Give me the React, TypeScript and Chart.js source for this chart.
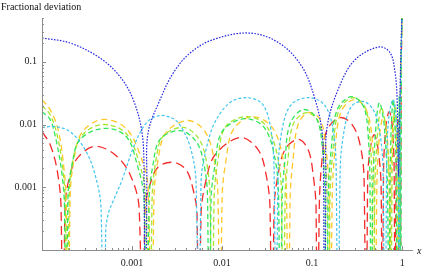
import React, { useEffect, useRef } from 'react';
import { Chart, registerables } from 'chart.js';

Chart.register(...registerables);

type Pt = [number, number];

// Values (x, |fractional deviation|); 1e-8 marks a zero crossing.
const blueCurve: Pt[] = [
  [1e-4, 0.24], [2.05e-4, 0.2], [4.41e-4, 0.115], [7.36e-4, 0.058], [1.03e-3, 0.025],
  [1.29e-3, 0.0075], [1.36e-3, 0.0015], [1.41e-3, 1e-8], [1.46e-3, 0.0015], [1.51e-3, 0.0075],
  [2.05e-3, 0.025], [2.86e-3, 0.066], [4.41e-3, 0.138], [7.74e-3, 0.223], [0.02, 0.288],
  [0.043, 0.2], [0.0774, 0.0834], [0.108, 0.025], [0.129, 0.0075], [0.134, 0.0015],
  [0.138, 1e-8], [0.142, 0.0015], [0.147, 0.0093], [0.2, 0.04], [0.3, 0.108], [0.555, 0.173],
  [0.736, 0.139], [0.836, 0.0668], [0.88, 0.025], [0.9, 0.004], [0.912, 0.0015], [0.925, 0.004],
  [0.95, 0.04], [0.975, 0.2], [1.0, 0.7],
];

const cyanCurve: Pt[] = [
  [1e-4, 0.009], [1.39e-4, 0.0093], [2.05e-4, 0.0077], [3.0e-4, 0.004], [3.88e-4, 0.0016],
  [4.53e-4, 0.00045], [4.89e-4, 1e-8], [5.1e-4, 0.0002], [5.5e-4, 0.0004], [6.0e-4, 0.00055],
  [7.74e-4, 0.0013], [1.08e-3, 0.005], [1.47e-3, 0.011], [2.05e-3, 0.0139], [2.86e-3, 0.0125],
  [3.41e-3, 0.0098], [4.41e-3, 0.0045], [5.14e-3, 0.0012],
  [5.55e-3, 1e-8], [5.84e-3, 0.0012], [6.64e-3, 0.004], [8.36e-3, 0.011], [0.0123, 0.0225],
  [0.019, 0.0268], [0.0278, 0.0215], [0.0341, 0.01], [0.0378, 0.0019], [0.04, 1e-8],
  [0.0419, 0.0019], [0.0476, 0.01], [0.06, 0.0215], [0.095, 0.0268], [0.139, 0.02],
  [0.171, 0.0083], [0.185, 0.0019], [0.194, 1e-8], [0.205, 0.0019], [0.233, 0.01],
  [0.278, 0.02], [0.378, 0.0232], [0.489, 0.0161], [0.57, 0.0069], [0.615, 0.0016],
  [0.647, 1e-8], [0.673, 0.0028], [0.718, 0.0145], [0.794, 0.025], [0.857, 0.012],
  [0.903, 0.0019], [0.926, 1e-8], [0.95, 0.012], [0.975, 0.108], [1.0, 0.7],
];

const redCurve: Pt[] = [
  [1e-4, 0.0077], [1.23e-4, 0.0048], [1.47e-4, 0.0019], [1.63e-4, 0.00045], [1.71e-4, 1e-8],
  [1.8e-4, 0.00045], [2.05e-4, 0.0016], [2.51e-4, 0.003], [3.88e-4, 0.0045], [6.47e-4, 0.0033],
  [9.5e-4, 0.0016], [1.2e-3, 0.00045], [1.33e-3, 1e-8], [1.39e-3, 0.00045], [1.58e-3, 0.0011],
  [1.95e-3, 0.0021], [2.86e-3, 0.0025], [3.98e-3, 0.0019], [4.76e-3, 0.00093], [5.27e-3, 0.00037],
  [5.55e-3, 1e-8], [5.84e-3, 0.00037], [6.64e-3, 0.0013], [8.36e-3, 0.0033], [0.0158, 0.0062],
  [0.0251, 0.004], [0.0308, 0.0016], [0.0341, 0.00045], [0.036, 1e-8], [0.0378, 0.00045],
  [0.0419, 0.0016], [0.0501, 0.004], [0.0699, 0.0058], [0.0903, 0.004], [0.1026, 0.0016],
  [0.1107, 0.00045], [0.1137, 1e-8], [0.12, 0.00045], [0.129, 0.0028], [0.147, 0.0083],
  [0.205, 0.0129], [0.278, 0.01], [0.341, 0.0048], [0.378, 0.0013], [0.398, 1e-8],
  [0.414, 0.0013], [0.441, 0.004], [0.489, 0.0069], [0.541, 0.004], [0.585, 0.00093],
  [0.6, 1e-8], [0.622, 0.0019], [0.664, 0.01], [0.718, 0.0161], [0.774, 0.01], [0.815, 0.0019],
  [0.836, 1e-8], [0.857, 0.0019], [0.903, 0.012], [0.938, 0.0019], [0.95, 1e-8],
  [0.975, 0.052], [1.0, 0.7],
];

const yellowCurve: Pt[] = [
  [1e-4, 0.025], [1.23e-4, 0.0173], [1.51e-4, 0.0083], [1.76e-4, 0.0019], [1.87e-4, 0.00045],
  [1.94e-4, 1e-8], [2.05e-4, 0.00065], [2.27e-4, 0.0028], [2.78e-4, 0.0075], [4.64e-4, 0.012],
  [8.36e-4, 0.009], [1.23e-3, 0.0033], [1.51e-3, 0.00093], [1.67e-3, 1e-8], [1.75e-3, 0.00065],
  [1.95e-3, 0.0028], [2.39e-3, 0.0075], [4.19e-3, 0.0116], [6.47e-3, 0.0077], [8.15e-3, 0.0028],
  [9.03e-3, 0.00065], [9.5e-3, 1e-8], [0.01, 0.00065], [0.0111, 0.0028], [0.0133, 0.0083],
  [0.0215, 0.0134], [0.036, 0.009], [0.0476, 0.0028], [0.0521, 0.00065], [0.054, 1e-8],
  [0.057, 0.00065], [0.0615, 0.0028], [0.0699, 0.01], [0.0903, 0.0155], [0.123, 0.012],
  [0.143, 0.004], [0.155, 0.00065], [0.158, 1e-8], [0.167, 0.00065], [0.18, 0.004],
  [0.21, 0.0161], [0.293, 0.025], [0.398, 0.0173], [0.464, 0.0058], [0.489, 0.00065],
  [0.5, 1e-8], [0.521, 0.00065], [0.555, 0.0058], [0.615, 0.0129], [0.681, 0.0069],
  [0.718, 0.00065], [0.736, 1e-8], [0.755, 0.0019], [0.815, 0.0145], [0.88, 0.0019],
  [0.903, 1e-8], [0.938, 0.004], [0.975, 0.108], [1.0, 0.7],
];

const limeCurve: Pt[] = [
  [1e-4, 0.02], [1.23e-4, 0.0144], [1.47e-4, 0.0069], [1.71e-4, 0.0019], [1.82e-4, 0.00045],
  [1.9e-4, 1e-8], [2.0e-4, 0.00065], [2.21e-4, 0.0028], [2.78e-4, 0.0067], [4.64e-4, 0.01],
  [8.36e-4, 0.0075], [1.17e-3, 0.0028], [1.43e-3, 0.00065], [1.58e-3, 1e-8], [1.67e-3, 0.00065],
  [1.85e-3, 0.0028], [2.21e-3, 0.0065], [3.69e-3, 0.009], [5.41e-3, 0.0062], [6.64e-3, 0.0028],
  [7.36e-3, 0.00065], [7.74e-3, 1e-8], [8.15e-3, 0.00065], [9.03e-3, 0.0028], [0.0108, 0.009],
  [0.0185, 0.0134], [0.0308, 0.0096], [0.0419, 0.0028], [0.0458, 0.00065], [0.0476, 1e-8],
  [0.0501, 0.00065], [0.054, 0.0028], [0.0615, 0.01], [0.0858, 0.0155], [0.117, 0.0112],
  [0.136, 0.004], [0.147, 0.00065], [0.151, 1e-8], [0.158, 0.00065], [0.171, 0.004],
  [0.2, 0.0173], [0.286, 0.0268], [0.388, 0.0186], [0.441, 0.0058], [0.464, 0.00065],
  [0.476, 1e-8], [0.495, 0.00065], [0.528, 0.0058], [0.585, 0.0186], [0.664, 0.0083],
  [0.727, 0.00065], [0.755, 1e-8], [0.774, 0.0019], [0.836, 0.0207], [0.903, 0.0019],
  [0.926, 1e-8], [0.95, 0.012], [0.975, 0.155], [1.0, 0.7],
];

const greenCurve: Pt[] = [
  [1e-4, 0.0161], [1.23e-4, 0.012], [1.43e-4, 0.0058], [1.67e-4, 0.0016], [1.78e-4, 0.00045],
  [1.85e-4, 1e-8], [1.94e-4, 0.00065], [2.16e-4, 0.0023], [2.65e-4, 0.0058], [4.89e-4, 0.0087],
  [8.58e-4, 0.0065], [1.14e-3, 0.0023], [1.36e-3, 0.00065], [1.47e-3, 1e-8], [1.55e-3, 0.00065],
  [1.71e-3, 0.0023], [2.05e-3, 0.0058], [3.41e-3, 0.008], [5.14e-3, 0.0054], [6.31e-3, 0.0023],
  [6.9e-3, 0.00065], [7.17e-3, 1e-8], [7.55e-3, 0.00065], [8.36e-3, 0.0023], [0.01, 0.0077],
  [0.0176, 0.0124], [0.0293, 0.009], [0.0388, 0.0028], [0.0425, 0.00065], [0.0441, 1e-8],
  [0.0464, 0.00065], [0.0501, 0.0028], [0.057, 0.0104], [0.0794, 0.0173], [0.1107, 0.0129],
  [0.129, 0.0048], [0.139, 0.00065], [0.143, 1e-8], [0.151, 0.00065], [0.163, 0.004],
  [0.19, 0.0173], [0.271, 0.0278], [0.369, 0.02], [0.419, 0.0069], [0.441, 0.00065],
  [0.453, 1e-8], [0.47, 0.00065], [0.5, 0.0058], [0.555, 0.0223], [0.631, 0.01],
  [0.69, 0.00065], [0.718, 1e-8], [0.736, 0.0019], [0.794, 0.025], [0.857, 0.0019],
  [0.88, 1e-8], [0.926, 0.025], [0.95, 0.0028], [0.962, 1e-8], [0.98, 0.108], [1.0, 0.7],
];

const xTickValues = [1e-4, 1e-3, 1e-2, 0.1, 1];
const xTickLabels = ['', '0.001', '0.01', '0.1', '1'];
const yTickValues = [1e-4, 1e-3, 1e-2, 0.1];
const yTickLabels = ['', '0.001', '0.01', '0.1'];
const X_MIN = 1e-4;
const X_MAX = 1.32;
const Y_MIN = 1e-4;
const Y_MAX = 0.5;

const seriesDefs = [
  { name: 'blue', data: blueCurve, color: '#2828e0', dash: [1.6, 1.4], width: 1.2 },
  { name: 'cyan', data: cyanCurve, color: '#40c6ee', dash: [3, 2], width: 1.2 },
  { name: 'green', data: greenCurve, color: '#33e65c', dash: [5, 3], width: 1.3 },
  { name: 'lime', data: limeCurve, color: '#a6e632', dash: [5, 3], width: 1.3 },
  { name: 'yellow', data: yellowCurve, color: '#ffc828', dash: [6, 4], width: 1.3 },
  { name: 'red', data: redCurve, color: '#f52a2a', dash: [9, 5], width: 1.3 },
];

const FONT = '"Liberation Serif", "DejaVu Serif", serif';

const axesPlugin = {
  id: 'mmaAxes',
  afterDatasetsDraw(chart: any) {
    const { ctx, chartArea, scales } = chart;
    const xs = scales.x;
    const ys = scales.y;
    const left = chartArea.left;
    const bottom = chartArea.bottom;
    ctx.save();
    ctx.strokeStyle = '#8c8c8c';
    ctx.lineWidth = 1;
    ctx.beginPath();
    ctx.moveTo(left + 0.5, chartArea.top);
    ctx.lineTo(left + 0.5, bottom + 0.5);
    ctx.lineTo(chartArea.right, bottom + 0.5);
    ctx.stroke();
    ctx.beginPath();
    for (let e = -4; e <= 0; e++) {
      for (let m = 1; m <= 9; m++) {
        const v = m * Math.pow(10, e);
        if (v < X_MIN || v > X_MAX) continue;
        const px = Math.round(xs.getPixelForValue(v)) + 0.5;
        const len = m === 1 ? 4 : 2;
        ctx.moveTo(px, bottom);
        ctx.lineTo(px, bottom - len);
      }
    }
    for (let e = -4; e <= -1; e++) {
      for (let m = 1; m <= 9; m++) {
        const v = m * Math.pow(10, e);
        if (v < Y_MIN || v > Y_MAX) continue;
        const py = Math.round(ys.getPixelForValue(v)) + 0.5;
        const len = m === 1 ? 4 : 2;
        ctx.moveTo(left, py);
        ctx.lineTo(left + len, py);
      }
    }
    ctx.stroke();
    ctx.fillStyle = '#111';
    ctx.font = '10px ' + FONT;
    ctx.textBaseline = 'middle';
    ctx.textAlign = 'left';
    ctx.fillText('Fractional deviation', 1, 7);
    ctx.font = 'italic 10px ' + FONT;
    ctx.fillText('x', chartArea.right + 4, bottom + 1);
    ctx.restore();
  },
};

export default function App() {
  const canvasRef = useRef<HTMLCanvasElement | null>(null);

  useEffect(() => {
    const canvas = canvasRef.current;
    if (!canvas) return;
    const chart = new Chart(canvas, {
      type: 'line',
      data: {
        datasets: seriesDefs.map((s) => ({
          label: s.name,
          data: s.data.map(([x, y]) => ({ x, y })),
          borderColor: s.color,
          borderWidth: s.width,
          borderDash: s.dash,
          pointRadius: 0,
          fill: false,
          tension: 0.35,
        })),
      },
      options: {
        animation: false,
        responsive: false,
        devicePixelRatio: 1,
        layout: { padding: { top: 18, right: 12, left: 0, bottom: 0 } },
        plugins: { legend: { display: false }, tooltip: { enabled: false }, title: { display: false } },
        scales: {
          x: {
            type: 'logarithmic',
            min: X_MIN,
            max: X_MAX,
            grid: { display: false, drawTicks: false },
            border: { display: false },
            afterBuildTicks: (scale: any) => {
              scale.ticks = xTickValues.map((v) => ({ value: v }));
            },
            afterFit: (scale: any) => {
              scale.height = 19;
            },
            ticks: {
              autoSkip: false,
              maxRotation: 0,
              padding: 7,
              color: '#222',
              font: { family: FONT, size: 10 },
              callback: (value: any) => {
                const i = xTickValues.findIndex((v) => Math.abs(v - Number(value)) / v < 1e-6);
                return i >= 0 ? xTickLabels[i] : '';
              },
            },
          },
          y: {
            type: 'logarithmic',
            min: Y_MIN,
            max: Y_MAX,
            grid: { display: false, drawTicks: false },
            border: { display: false },
            afterBuildTicks: (scale: any) => {
              scale.ticks = yTickValues.map((v) => ({ value: v }));
            },
            afterFit: (scale: any) => {
              scale.width = 42;
            },
            ticks: {
              autoSkip: false,
              padding: 5,
              color: '#222',
              font: { family: FONT, size: 10 },
              callback: (value: any) => {
                const i = yTickValues.findIndex((v) => Math.abs(v - Number(value)) / v < 1e-6);
                return i >= 0 ? yTickLabels[i] : '';
              },
            },
          },
        },
      },
      plugins: [axesPlugin],
    } as any);
    return () => chart.destroy();
  }, []);

  return (
    <div style={{ position: 'fixed', left: 0, top: 0, width: 425, height: 269, background: '#fff' }}>
      <canvas ref={canvasRef} width={425} height={269} style={{ display: 'block', width: 425, height: 269 }} />
    </div>
  );
}
